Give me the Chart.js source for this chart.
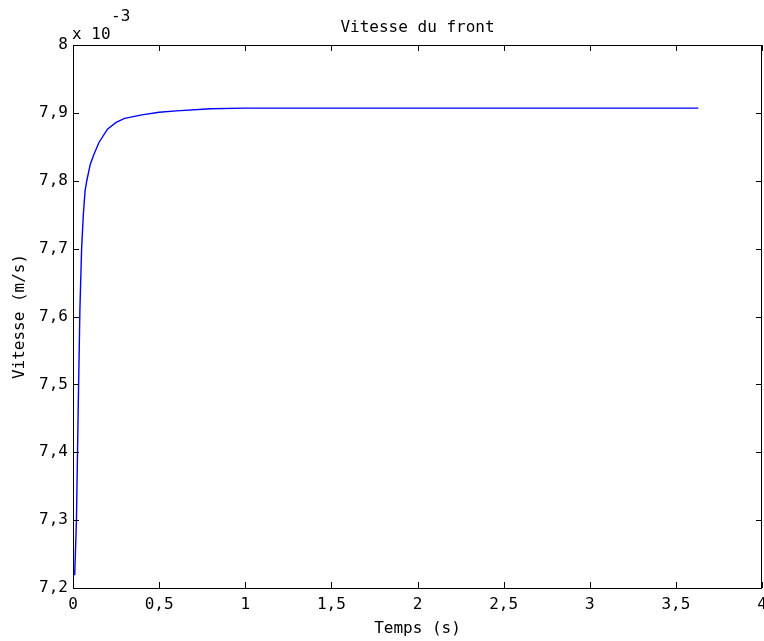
<!DOCTYPE html>
<html>
<head>
<meta charset="utf-8">
<script src="https://cdn.jsdelivr.net/npm/chart.js@4"></script>
<style>
  html, body { margin: 0; padding: 0; background: #fff; }
  #wrap { width: 764px; height: 641px; }
</style>
</head>
<body>
<div id="wrap"><canvas id="vitesse"></canvas></div>
<script>
// temps (s) and vitesse (x 10^-3 m/s)
const temps   = [0.005, 0.01, 0.02, 0.03, 0.04, 0.05, 0.06, 0.07, 0.08, 0.09, 0.10, 0.12, 0.15, 0.20, 0.25, 0.30, 0.40, 0.50, 0.60, 0.80, 1.00, 3.63];
const vitesse = [7.22, 7.22, 7.30, 7.46, 7.61, 7.70, 7.75, 7.785, 7.80, 7.812, 7.824, 7.838, 7.856, 7.876, 7.886, 7.892, 7.897, 7.901, 7.903, 7.906, 7.907, 7.907];

const xTicks = [0, 0.5, 1, 1.5, 2, 2.5, 3, 3.5, 4];
const yTicks = [7.2, 7.3, 7.4, 7.5, 7.6, 7.7, 7.8, 7.9, 8];

const FONT = '"DejaVu Sans Mono", monospace';
const fmt = v => String(Math.round(v * 10) / 10).replace('.', ',');

// matlab style box with inward ticks, title and exponent
const boxPlugin = {
  id: 'box',
  afterDraw(chart) {
    const ctx = chart.ctx;
    const a = chart.chartArea;
    const xs = chart.scales.x, ys = chart.scales.y;
    ctx.save();
    ctx.strokeStyle = '#000';
    ctx.lineWidth = 1;
    ctx.strokeRect(a.left + 0.5, a.top + 0.5, a.right - a.left - 1, a.bottom - a.top);
    ctx.beginPath();
    xTicks.forEach(t => {
      const px = Math.round(xs.getPixelForValue(t)) + 0.5;
      ctx.moveTo(px, a.bottom); ctx.lineTo(px, a.bottom - 6);
      ctx.moveTo(px, a.top); ctx.lineTo(px, a.top + 6);
    });
    yTicks.forEach(t => {
      const py = Math.round(ys.getPixelForValue(t)) + 0.5;
      ctx.moveTo(a.left, py); ctx.lineTo(a.left + 6, py);
      ctx.moveTo(a.right, py); ctx.lineTo(a.right - 6, py);
    });
    ctx.stroke();

    ctx.fillStyle = '#000';
    ctx.font = '16px ' + FONT;
    ctx.textAlign = 'center';
    ctx.textBaseline = 'middle';
    ctx.fillText('Vitesse du front', (a.left + a.right) / 2, 28);
    ctx.textAlign = 'left';
    ctx.fillText('x 10', a.left - 1, 35);
    ctx.fillText('-3', a.left + 38, 17);
    ctx.restore();
  }
};

new Chart(document.getElementById('vitesse'), {
  type: 'line',
  data: {
    datasets: [{
      data: temps.map((t, i) => ({ x: t, y: vitesse[i] })),
      borderColor: '#0000ff',
      borderWidth: 1.4,
      pointRadius: 0,
      tension: 0,
      fill: false
    }]
  },
  options: {
    responsive: true,
    maintainAspectRatio: false,
    animation: false,
    layout: { padding: { top: 45, right: 2, left: 0, bottom: 0 } },
    plugins: {
      legend: { display: false },
      tooltip: { enabled: false }
    },
    scales: {
      x: {
        type: 'linear',
        min: 0, max: 4,
        afterBuildTicks: s => { s.ticks = xTicks.map(v => ({ value: v })); },
        afterFit: s => { s.height = 53; s.paddingLeft = 0; s.paddingRight = 0; },
        grid: { display: false, drawTicks: false },
        border: { display: false },
        ticks: { color: '#000', font: { family: FONT, size: 16 }, padding: 7, callback: fmt, maxRotation: 0 },
        title: { display: true, text: 'Temps (s)', color: '#000', font: { family: FONT, size: 16 }, padding: { top: 0, bottom: 3 } }
      },
      y: {
        min: 7.2, max: 8,
        afterBuildTicks: s => { s.ticks = yTicks.map(v => ({ value: v })); },
        afterFit: s => { s.width = 73; s.paddingTop = 0; s.paddingBottom = 0; },
        grid: { display: false, drawTicks: false },
        border: { display: false },
        ticks: { color: '#000', font: { family: FONT, size: 16 }, padding: 5, callback: fmt },
        title: { display: true, text: 'Vitesse (m/s)', color: '#000', font: { family: FONT, size: 16 }, padding: { top: 10, bottom: 0 } }
      }
    }
  },
  plugins: [boxPlugin]
});
</script>
</body>
</html>
